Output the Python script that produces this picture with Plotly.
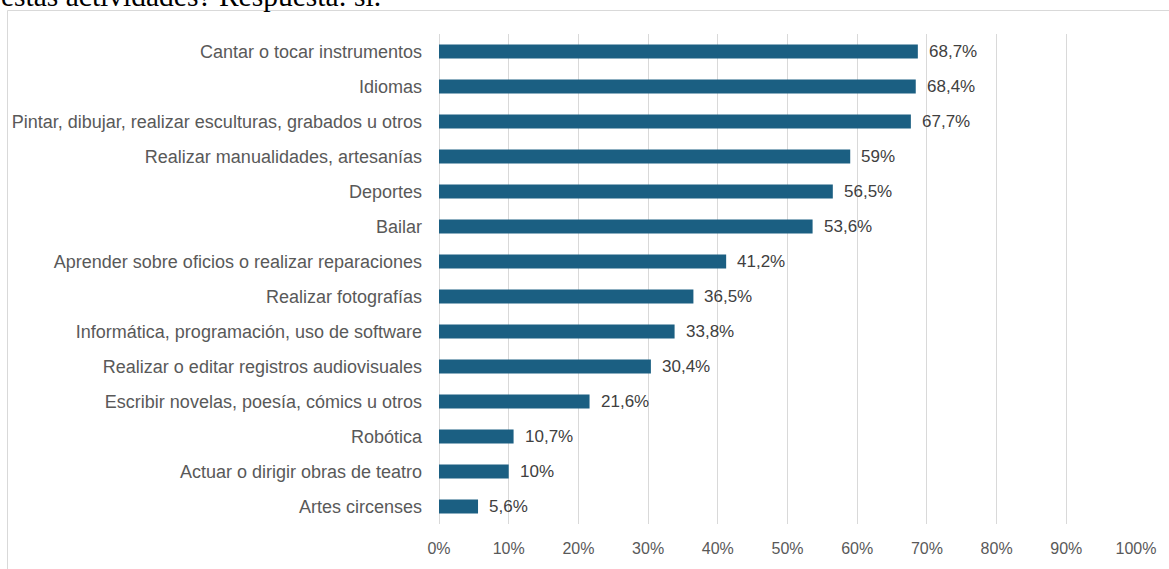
import plotly.graph_objects as go

categories = [
    "Cantar o tocar instrumentos",
    "Idiomas",
    "Pintar, dibujar, realizar esculturas, grabados u otros",
    "Realizar manualidades, artesanías",
    "Deportes",
    "Bailar",
    "Aprender sobre oficios o realizar reparaciones",
    "Realizar fotografías",
    "Informática, programación, uso de software",
    "Realizar o editar registros audiovisuales",
    "Escribir novelas, poesía, cómics u otros",
    "Robótica",
    "Actuar o dirigir obras de teatro",
    "Artes circenses",
]
values = [68.7, 68.4, 67.7, 59, 56.5, 53.6, 41.2, 36.5, 33.8, 30.4, 21.6, 10.7, 10, 5.6]
tick_vals = [0, 10, 20, 30, 40, 50, 60, 70, 80, 90, 100]
tick_text = [f"{v}%" for v in tick_vals]
title_text = "estas actividades? Respuesta: sí."


def fmt(v):
    s = f"{v:g}".replace(".", ",")
    return s + "%"


W, H = 1169, 569
L, R, T, B = 439, 33, 34, 45
pw, ph = W - L - R, H - T - B

fig = go.Figure()
fig.add_trace(go.Bar(
    x=values, y=categories, orientation="h",
    marker=dict(color="#1B5F82", line=dict(width=0)),
    width=0.4,
    hoverinfo="skip",
))

for c, v in zip(categories, values):
    fig.add_annotation(
        x=v, y=c, xref="x", yref="y", text=fmt(v), showarrow=False,
        xanchor="left", yanchor="middle", xshift=9,
        font=dict(family="Liberation Sans, Arial, sans-serif", size=17, color="#404040"),
    )

# title fragment at top, partially clipped
fig.add_annotation(
    x=(-1 - L) / pw, y=(H - B - 14) / ph, xref="paper", yref="paper",
    text=title_text, showarrow=False, xanchor="left", yanchor="bottom",
    font=dict(family="Liberation Serif, Times New Roman, serif", size=29.5, color="#000000"),
)

# chart border
fig.add_shape(
    type="rect", xref="paper", yref="paper",
    x0=(7.5 - L) / pw, x1=(W + 10 - L) / pw,
    y0=(H - B - (H + 10)) / ph, y1=(H - B - 10.5) / ph,
    line=dict(color="#D9D9D9", width=1), fillcolor="rgba(0,0,0,0)", layer="below",
)

fig.update_layout(
    width=W, height=H,
    margin=dict(l=L, r=R, t=T, b=B, pad=0),
    paper_bgcolor="white", plot_bgcolor="white",
    showlegend=False,
    bargap=0.6,
    xaxis=dict(
        range=[0, 100], tickvals=tick_vals, ticktext=tick_text,
        showgrid=True, gridcolor="#D9D9D9", gridwidth=1,
        zeroline=True, zerolinecolor="#D9D9D9", zerolinewidth=1,
        showline=False, ticks="", ticklabelstandoff=13,
        tickfont=dict(family="Liberation Sans, Arial, sans-serif", size=16, color="#595959"),
        fixedrange=True,
    ),
    yaxis=dict(
        autorange="reversed", showgrid=False, zeroline=False, showline=False,
        ticks="", ticklabelstandoff=16,
        tickfont=dict(family="Liberation Sans Narrow, Arial Narrow, sans-serif", size=18, color="#595959"),
        fixedrange=True,
    ),
)

fig.write_html(
    "out.html",
    config={"displayModeBar": False},
    post_script="document.body.style.margin='0';document.body.style.overflow='hidden';",
)
